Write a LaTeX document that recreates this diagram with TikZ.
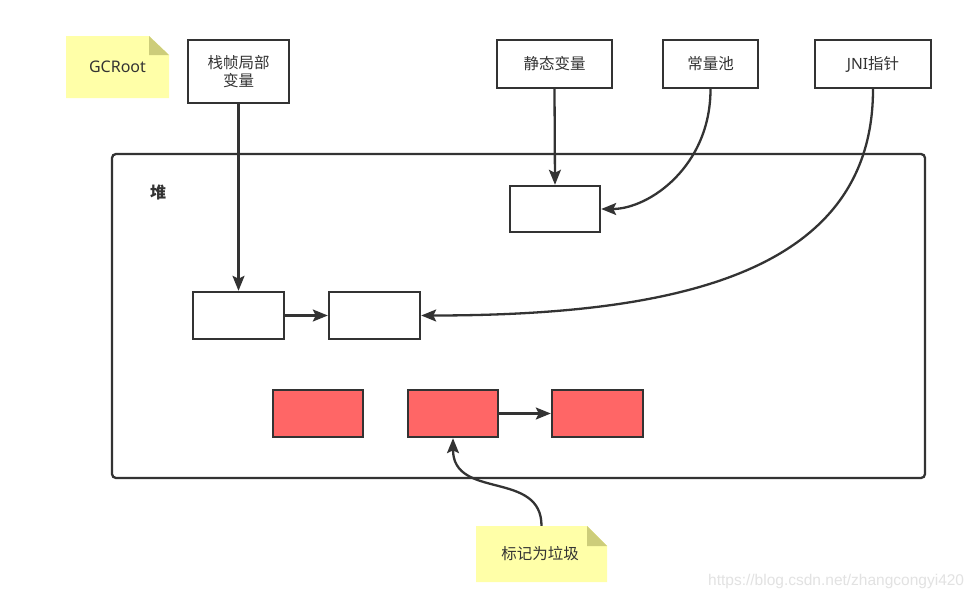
\documentclass[tikz,border=0pt]{standalone}
\usepackage{fontspec}
\setmainfont{Noto Sans}
\newfontfamily\cjk{Noto Sans CJK SC}
\newfontfamily\wmfont{Liberation Sans}
\usetikzlibrary{arrows.meta}
\definecolor{ink}{HTML}{333333}
\definecolor{deadred}{HTML}{FF6666}
\definecolor{notefill}{HTML}{FFFFA8}
\definecolor{notefold}{HTML}{CDCD7A}
\definecolor{wmgrey}{HTML}{E2E2E2}
\begin{document}
\begin{tikzpicture}[x=1pt,y=-1pt,
  txt/.style={text=ink,font=\cjk\fontsize{15.5}{18.5}\selectfont,align=center,inner sep=0pt},
  rootbox/.style={txt,draw=ink,line width=2.4pt,fill=white},
  obj/.style={draw=ink,line width=2.4pt,fill=white,minimum width=91pt,minimum height=47pt,inner sep=0pt},
  dead/.style={obj,fill=deadred},
  link/.style={draw=ink,line width=2.3pt,-{Stealth[length=15pt,width=12pt,inset=3pt]}},
  heap/.style={draw=ink,line width=2.3pt,rounded corners=4pt}
]
\useasboundingbox (0,0) rectangle (979,597);
\fill[white] (0,0) rectangle (979,597);

% heap container
\draw[heap] (112,154) rectangle (925,478);
\node[txt,font=\cjk\bfseries\fontsize{16}{18}\selectfont] (heaplbl) at (158,192) {堆};

% GCRoot note
\fill[notefill] (66,36) -- (149,36) -- (169,55) -- (169,98) -- (66,98) -- cycle;
\fill[notefold] (149,36) -- (149,55) -- (169,55) -- cycle;
\node[txt,font=\rmfamily\fontsize{16}{19}\selectfont] (gcroot) at (117.5,67) {GCRoot};

% roots
\node[rootbox,minimum width=101pt,minimum height=63pt] (zhan) at (238.5,71.5) {栈帧局部\\变量};
\node[rootbox,minimum width=115pt,minimum height=48pt] (static) at (554.5,64) {静态变量};
\node[rootbox,minimum width=95pt,minimum height=48pt] (pool) at (710.5,64) {常量池};
\node[rootbox,minimum width=116pt,minimum height=48pt] (jni) at (873,64) {{\rmfamily JNI}指针};

% heap objects
\node[obj,minimum width=90pt,minimum height=46pt] (s1) at (555,209) {};
\node[obj] (b1) at (238.5,315.5) {};
\node[obj] (b2) at (374.5,315.5) {};
\node[dead,minimum width=90pt] (r1) at (318,413.5) {};
\node[dead,minimum width=90pt] (r2) at (453,413.5) {};
\node[dead] (r3) at (597.5,413.5) {};

% garbage note
\fill[notefill] (476,526) -- (587,526) -- (607,546) -- (607,582) -- (476,582) -- cycle;
\fill[notefold] (587,526) -- (587,546) -- (607,546) -- cycle;
\node[inner sep=0pt,minimum width=131pt,minimum height=56pt] (marknote) at (541.5,554) {};
\node[txt] (marktext) at (540,554) {标记为垃圾};

% connectors
\draw[link] (zhan.south) -- (b1.north);
\draw[link] (static.south) -- (s1.north);
\draw[link] (pool.south) .. controls +(0,77) and +(48,0) .. (s1.east);
\draw[link] (jni.south) .. controls +(0,182) and +(260,0) .. (b2.east);
\draw[link] (b1.east) -- (b2.west);
\draw[link] (r2.east) -- (r3.west);
\draw[link] (marknote.north) .. controls +(0,-56) and +(0,62) .. (r2.south);

% watermark
\node[anchor=base west,inner sep=0pt,text=wmgrey,font=\wmfont\fontsize{15.5}{18}\selectfont] (wm) at (708,585) {https://blog.csdn.net/zhangcongyi420};
\end{tikzpicture}
\end{document}
